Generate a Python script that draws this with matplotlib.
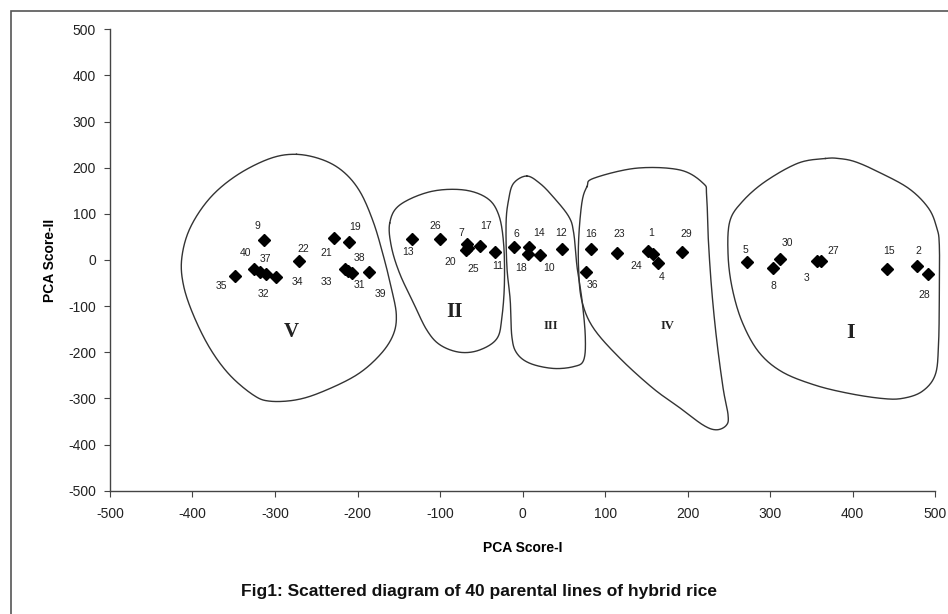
import matplotlib
matplotlib.use("Agg")
import matplotlib.pyplot as plt
import numpy as np

plt.rcParams['font.family'] = ['Liberation Sans', 'DejaVu Sans']
plt.rcParams['axes.unicode_minus'] = False

# parental line number, PCA score I, PCA score II
line_ids = list(range(1, 41))
pca1 = [152.5, 478, 356.6, 164.6, 272, -11, -67, 304, -313, 21,
        -33, 48, -134, 8, 441.5, 83, -51.5, 6, -210, -69,
        -229, -270.5, 115, 158.5, -66, -100, 362, 491, 193, 312,
        -207, -311, -211, -299, -349, 77, -318, -215, -186, -325]
pca2 = [20, -12, -2, -7, -5, 29, 34, -18, 43, 10,
        17, 23, 45, 27.5, -19.5, 24.5, 31, 13, 39, 22,
        48, -2, 16, 13, 27, 45, -2, -31, 18, 2,
        -27.5, -31, -24, -37, -34, -25, -25, -20, -26, -20]

# hand drawn cluster outlines (data units)
cluster_names = ['V', 'II', 'III', 'IV', 'I']
outline_V = [(-274, 229), (-306, 220), (-346, 184), (-379, 134), (-403, 69), (-413, 4),
             (-411, -54), (-399, -119), (-379, -191), (-355, -249), (-326, -293), (-306, -306),
             (-274, -303), (-242, -285), (-201, -249), (-173, -206), (-157, -163), (-153, -119),
             (-159, -61), (-169, 11), (-181, 83), (-197, 148), (-217, 191), (-242, 217)]
outline_II = [(-161, 80), (-149, 119), (-112, 148), (-72, 152), (-43, 134), (-29, 98),
              (-23, 36), (-22, -50), (-25, -123), (-31, -170), (-52, -195), (-76, -200),
              (-100, -184), (-116, -152), (-132, -94), (-149, -29), (-159, 29)]
outline_III = [(5, 182), (-11, 166), (-17, 130), (-20, 80), (-19, -15), (-15, -87),
               (-13, -166), (-7, -202), (9, -224), (37, -235), (62, -231), (74, -217),
               (76, -166), (72, -87), (66, -15), (62, 58), (56, 94), (37, 137), (21, 166)]
outline_IV = [(78, 159), (86, 177), (138, 199), (191, 195), (219, 166), (223, 141),
              (225, 47), (229, -61), (235, -170), (243, -278), (249, -336), (247, -358),
              (235, -368), (219, -358), (191, -321), (158, -278), (118, -213), (86, -148),
              (72, -90), (68, -25), (68, 47), (72, 126)]
outline_I = [(367, 220), (334, 210), (294, 170), (266, 126), (251, 83), (249, 11),
             (254, -61), (266, -134), (286, -199), (314, -242), (354, -271), (395, -289),
             (435, -300), (460, -300), (484, -285), (500, -249), (504, -184), (505, -76),
             (505, 32), (502, 69), (492, 112), (468, 155), (431, 191), (403, 213), (383, 220)]
outlines = [outline_V, outline_II, outline_III, outline_IV, outline_I]
name_pos = [(-280, -155), (-82, -113), (34, -143), (175, -144), (398, -159)]
name_size = [15, 15, 9, 9, 16]

# label offsets in pixels (dx, dy downwards)
label_offsets = {
    1: (3, -18), 2: (1, -15), 3: (-10, 17), 4: (3, 14), 5: (-2, -12),
    6: (3, -13), 7: (-6, -11), 8: (0, 18), 9: (-7, -14), 10: (9, 13),
    11: (2, 14), 12: (-1, -16), 13: (-4, 13), 14: (10, -14), 15: (2, -18),
    16: (0, -15), 17: (6, -20), 18: (-6, 14), 19: (6, -15), 20: (-15, 12),
    21: (-7, 15), 22: (4, -12), 23: (2, -19), 24: (-17, 12), 25: (5, 21),
    26: (-5, -13), 27: (12, -10), 28: (-3, 21), 29: (4, -18), 30: (7, -16),
    31: (8, 12), 32: (-2, 20), 33: (-22, 11), 34: (22, 5), 35: (-13, 10),
    36: (6, 13), 37: (5, -13), 38: (14, -11), 39: (11, 22), 40: (-9, -16),
}


def closed_spline(pts, n=20):
    p = np.array(pts, dtype=float)
    m = len(p)
    out = []
    for i in range(m):
        p0, p1, p2, p3 = p[(i - 1) % m], p[i], p[(i + 1) % m], p[(i + 2) % m]
        t = np.linspace(0, 1, n, endpoint=False)[:, None]
        seg = 0.5 * ((2 * p1) + (-p0 + p2) * t + (2 * p0 - 5 * p1 + 4 * p2 - p3) * t ** 2
                     + (-p0 + 3 * p1 - 3 * p2 + p3) * t ** 3)
        out.append(seg)
    out = np.vstack(out)
    return np.vstack([out, out[:1]])


fig = plt.figure(figsize=(9.48, 6.14), dpi=100)
ax = fig.add_axes([0.116, 0.2008, 0.8705, 0.7515])

# border around the whole figure
fig.patches.append(plt.Rectangle((11 / 948, -0.05), 1.0, 1.05 - 11 / 614, transform=fig.transFigure,
                                 fill=False, edgecolor='#555555', linewidth=1.2))

for shape in outlines:
    c = closed_spline(shape)
    ax.plot(c[:, 0], c[:, 1], color='#333333', lw=1.0, clip_on=False)

for name, (nx, ny), fs in zip(cluster_names, name_pos, name_size):
    ax.text(nx, ny, name, family='Liberation Serif', fontweight='bold', fontsize=fs,
            ha='center', va='center', color='#222222')

ax.plot(pca1, pca2, linestyle='none', marker='D', markersize=6, color='black')

for i, x, y in zip(line_ids, pca1, pca2):
    dx, dy = label_offsets[i]
    ax.annotate(str(i), (x, y), xytext=(dx, -dy), textcoords='offset pixels',
                ha='center', va='center', fontsize=7.5, color='#222222')

ax.set_xlim(-500, 500)
ax.set_ylim(-500, 500)
ax.set_xticks(np.arange(-500, 501, 100))
ax.set_yticks(np.arange(-500, 501, 100))
for s in ['top', 'right']:
    ax.spines[s].set_visible(False)
for s in ['left', 'bottom']:
    ax.spines[s].set_color('#444444')
    ax.spines[s].set_linewidth(1.0)
ax.tick_params(direction='out', length=4, color='#444444', labelsize=10, labelcolor='#222222')
ax.tick_params(axis='x', pad=8)
ax.tick_params(axis='y', pad=6)

ax.set_xlabel('PCA Score-I', fontweight='bold', fontsize=10, labelpad=14)
ax.set_ylabel('PCA Score-II', fontweight='bold', fontsize=10, labelpad=8)
fig.text(0.505, 0.036, 'Fig1: Scattered diagram of 40 parental lines of hybrid rice',
         ha='center', va='center', fontweight='bold', fontsize=12.5, color='#111111')

fig.savefig('out.png', dpi=100)
